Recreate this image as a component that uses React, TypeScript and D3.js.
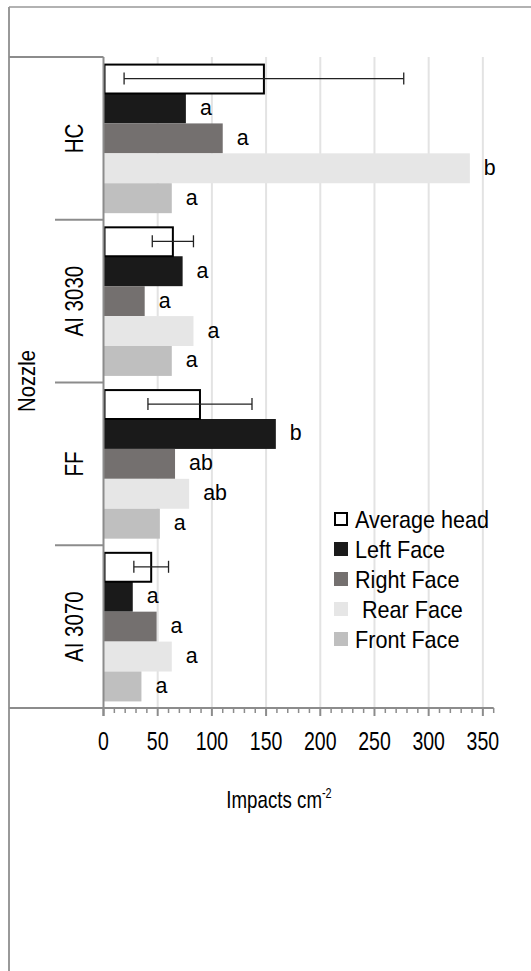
import * as d3 from 'd3'

const nozzles = ['HC', 'AI 3030', 'FF', 'AI 3070']
const faces = ['Average head', 'Left Face', 'Right Face', 'Rear Face', 'Front Face']

const averageHead = [148, 64, 89, 44]
const averageErr = [129, 19, 48, 16]
const leftFace = [76, 73, 159, 27]
const rightFace = [110, 38, 66, 49]
const rearFace = [338, 83, 79, 63]
const frontFace = [63, 63, 52, 35]

const leftLetters = ['a', 'a', 'b', 'a']
const rightLetters = ['a', 'a', 'ab', 'a']
const rearLetters = ['b', 'a', 'ab', 'a']
const frontLetters = ['a', 'a', 'a', 'a']

const xTicks = [0, 50, 100, 150, 200, 250, 300, 350]
const xMax = 360

const faceFill: Record<string, string> = {
  'Average head': '#ffffff',
  'Left Face': '#1a1a1a',
  'Right Face': '#74706f',
  'Rear Face': '#e6e6e6',
  'Front Face': '#bfbfbf',
}

const FONT = '"Liberation Sans", Arial, sans-serif'
const GRID = '#e3e3e3'
const AXIS = '#8c8c8c'

// narrow-ish text like the original export
function NText({ x, y, sx = 0.9, rot = 0, size = 22, anchor = 'start', children }: any) {
  return (
    <text
      transform={`translate(${x},${y}) rotate(${rot}) scale(${sx},1)`}
      fontFamily={FONT}
      fontSize={size}
      textAnchor={anchor}
      fill="#000"
    >
      {children}
    </text>
  )
}

export default function App() {
  const W = 531
  const H = 971
  const plotTop = 57
  const plotBottom = 708
  const catLeft = 103.5

  const x = d3.scaleLinear().domain([0, xMax]).range([catLeft, 493.7])
  const y0 = d3.scaleBand<string>().domain(nozzles).range([plotTop, plotBottom]).padding(0)
  const y1 = d3
    .scaleBand<string>()
    .domain(faces)
    .range([0, y0.bandwidth()])
    .paddingInner(0)
    .paddingOuter(0.22)

  const series: Record<string, number[]> = {
    'Left Face': leftFace,
    'Right Face': rightFace,
    'Rear Face': rearFace,
    'Front Face': frontFace,
  }
  const letters: Record<string, string[]> = {
    'Left Face': leftLetters,
    'Right Face': rightLetters,
    'Rear Face': rearLetters,
    'Front Face': frontLetters,
  }

  const minorTicks = d3.range(0, xMax + 1, 10)
  const bh = y1.bandwidth()

  return (
    <svg
      width={W}
      height={H}
      style={{ position: 'absolute', left: 0, top: 0, background: '#fff' }}
    >
      {/* outer frame */}
      <line x1={9} x2={W} y1={7} y2={7} stroke="#999" strokeWidth={1.5} />
      <line x1={9} x2={9} y1={7} y2={H} stroke="#999" strokeWidth={2} />

      {/* vertical grid */}
      {xTicks.filter((t) => t > 0).map((t) => (
        <line key={t} x1={x(t)} x2={x(t)} y1={plotTop} y2={plotBottom} stroke={GRID} strokeWidth={2} />
      ))}

      {/* bars */}
      {nozzles.map((n, i) => {
        const gy = y0(n)!
        return (
          <g key={n}>
            {faces.slice(1).map((f) => {
              const v = series[f][i]
              const by = gy + y1(f)!
              return (
                <g key={f}>
                  <rect x={x(0)} y={by} width={x(v) - x(0)} height={bh} fill={faceFill[f]} />
                  <NText x={x(v) + 14} y={by + bh / 2 + 6.5} sx={0.93} size={23}>
                    {letters[f][i]}
                  </NText>
                </g>
              )
            })}
            {(() => {
              const by = gy + y1('Average head')!
              const v = averageHead[i]
              const e = averageErr[i]
              const cy = by + bh / 2
              return (
                <g>
                  <rect
                    x={x(0) + 1}
                    y={by + 1}
                    width={x(v) - x(0) - 1}
                    height={bh - 1}
                    fill="#fff"
                    stroke="#000"
                    strokeWidth={2}
                  />
                  <line x1={x(v - e)} x2={x(v + e)} y1={cy} y2={cy} stroke="#222" strokeWidth={1.3} />
                  <line x1={x(v - e)} x2={x(v - e)} y1={cy - 6} y2={cy + 6} stroke="#222" strokeWidth={1.3} />
                  <line x1={x(v + e)} x2={x(v + e)} y1={cy - 6} y2={cy + 6} stroke="#222" strokeWidth={1.3} />
                </g>
              )
            })()}
          </g>
        )
      })}

      {/* category axis and separators */}
      <line x1={9} x2={catLeft} y1={plotTop} y2={plotTop} stroke={AXIS} strokeWidth={2} />
      <line x1={catLeft} x2={catLeft} y1={plotTop} y2={plotBottom + 8} stroke={AXIS} strokeWidth={2} />
      {nozzles.slice(1).map((n) => (
        <line key={n} x1={55} x2={catLeft} y1={y0(n)!} y2={y0(n)!} stroke={AXIS} strokeWidth={2} />
      ))}
      {nozzles.map((n) => (
        <NText key={n} x={83} y={y0(n)! + y0.bandwidth() / 2} rot={-90} sx={0.82} size={25} anchor="middle">
          {n}
        </NText>
      ))}
      <NText x={35} y={381} rot={-90} sx={0.88} size={23} anchor="middle">
        Nozzle
      </NText>

      {/* value axis */}
      <line x1={9} x2={x(xMax)} y1={plotBottom} y2={plotBottom} stroke={AXIS} strokeWidth={2} />
      {minorTicks.map((t) => (
        <line
          key={t}
          x1={x(t)}
          x2={x(t)}
          y1={plotBottom}
          y2={plotBottom + (t % 50 === 0 ? 8 : 5)}
          stroke={AXIS}
          strokeWidth={t % 50 === 0 ? 2 : 1.5}
        />
      ))}
      {xTicks.map((t) => (
        <NText key={t} x={x(t)} y={750} sx={0.78} size={25} anchor="middle">
          {t}
        </NText>
      ))}
      <text
        transform="translate(279,808) scale(0.78,1)"
        fontFamily={FONT}
        fontSize={24}
        textAnchor="middle"
        fill="#000"
      >
        Impacts cm<tspan fontSize={14} dy={-10}>-2</tspan>
      </text>

      {/* legend */}
      {faces.map((f, i) => {
        const cy = 519 + i * 30
        return (
          <g key={f}>
            {f === 'Average head' ? (
              <rect x={335} y={cy - 6} width={12} height={12} fill="#fff" stroke="#000" strokeWidth={2} />
            ) : (
              <rect x={334} y={cy - 7} width={14} height={14} fill={faceFill[f]} />
            )}
            <NText x={f === 'Rear Face' ? 362 : 355} y={cy + 8.5} sx={0.9} size={24}>
              {f}
            </NText>
          </g>
        )
      })}
    </svg>
  )
}
